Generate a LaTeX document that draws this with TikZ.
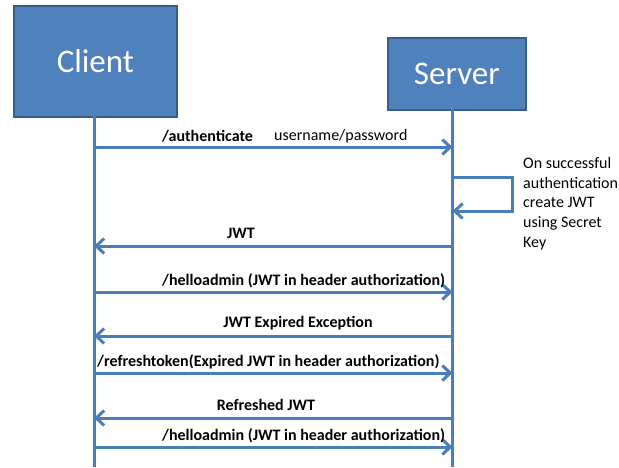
\documentclass[tikz,border=0pt]{standalone}
\usepackage{fontspec}
\setmainfont{Carlito}
\usetikzlibrary{arrows.meta}
\definecolor{boxfill}{HTML}{4F81BD}
\definecolor{boxedge}{HTML}{385D8A}
\definecolor{lineblue}{HTML}{4A7EBB}
\begin{document}
\begin{tikzpicture}[x=1pt,y=-1pt,
  actor/.style={draw=boxedge,line width=1.8pt,fill=boxfill,text=white,font=\fontsize{33}{33}\selectfont,inner sep=0pt,anchor=north west},
  life/.style={lineblue,line width=3pt},
  msg/.style={lineblue,line width=3pt,-{Straight Barb[length=8pt,width=15pt]}},
  lbl/.style={font=\fontsize{16}{17}\selectfont,inner sep=0pt,text=black},
  note/.style={font=\fontsize{16}{19.7}\selectfont,inner sep=0pt,align=left,anchor=north west}]
\useasboundingbox (0,0) rectangle (619,467);
\fill[white] (0,0) rectangle (619,467);
% actors
\node[actor,minimum width=163pt,minimum height=111pt] (client) at (13,5) {Client};
\node[actor,minimum width=138pt,minimum height=72pt] (server) at (387,37) {Server};
% lifelines
\coordinate (ctop) at (94,116);
\coordinate (cbot) at (94,467);
\coordinate (stop) at (452.5,109);
\coordinate (sbot) at (452.5,467);
\draw[life] (ctop) -- (cbot);
\draw[life] (stop) -- (sbot);
% message points
\foreach \i/\y in {1/147,2/246,3/292,4/336,5/373,6/418,7/447}{
  \coordinate (c\i) at (94,\y);
  \coordinate (s\i) at (452.5,\y);
}
\coordinate (l1) at (452.5,177);
\coordinate (l2) at (512,177);
\coordinate (l3) at (512,211);
\coordinate (l4) at (452.5,211);
% messages
\draw[msg] (c1) -- (s1);
\draw[msg] (l1) -- (l2) -- (l3) -- (l4);
\draw[msg] (s2) -- (c2);
\draw[msg] (c3) -- (s3);
\draw[msg] (s4) -- (c4);
\draw[msg] (c5) -- (s5);
\draw[msg] (s6) -- (c6);
\draw[msg] (c7) -- (s7);
% labels
\node[lbl,anchor=west] (t1a) at (162,136) {\textbf{/authenticate}};
\node[lbl,anchor=west] (t1b) at (274,136) {username/password};
\node[lbl] (t2) at (241,233) {\textbf{JWT}};
\node[lbl,anchor=west] (t3) at (162,281) {\textbf{/helloadmin (JWT in header authorization)}};
\node[lbl] (t4) at (298,323) {\textbf{JWT Expired Exception}};
\node[lbl,anchor=west] (t5) at (97,362) {\textbf{/refreshtoken(Expired JWT in header authorization)}};
\node[lbl] (t6) at (266,405) {\textbf{Refreshed JWT}};
\node[lbl,anchor=west] (t7) at (162,436) {\textbf{/helloadmin (JWT in header authorization)}};
\node[note] (n1) at (523,157) {On successful\\authentication\\create JWT\\using Secret\\Key};
\end{tikzpicture}
\end{document}
